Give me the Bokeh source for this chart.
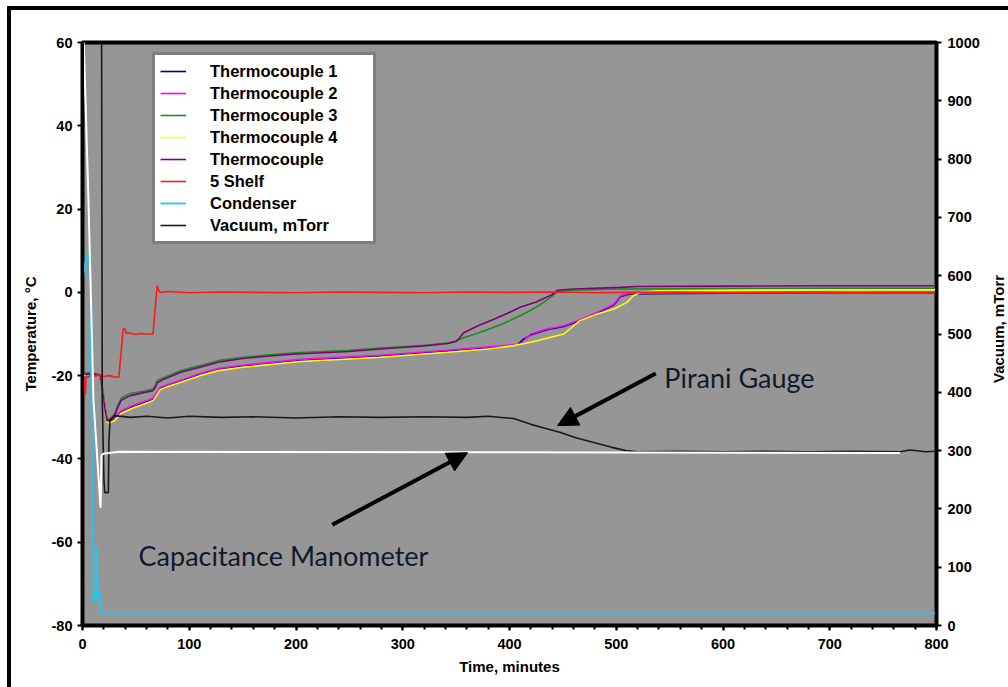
import math
from bokeh.plotting import figure
from bokeh.models import Range1d, LinearAxis, FixedTicker, Arrow, NormalHead, Label, Div
from bokeh.layouts import row
from bokeh.embed import file_html
from bokeh.resources import INLINE

# ---------------- data (time in minutes) ----------------
tc1_t = [0, 5, 10, 15, 17, 19, 21, 23, 26, 30, 36, 45, 61, 66, 68, 73, 80, 92, 110, 127, 150, 204, 250, 279, 342, 380, 404, 408, 413, 420, 435, 451, 466, 482, 498, 504, 513, 530, 600, 700, 800]
tc1_v = [-19.9, -19.7, -19.8, -20.0, -20.8, -24.0, -28.0, -30.8, -30.8, -30.3, -28.7, -27.6, -26.1, -25.6, -24.9, -23.0, -22.3, -21.3, -19.7, -18.5, -17.7, -16.3, -15.7, -15.3, -14.1, -13.3, -12.7, -12.5, -11.3, -10.2, -9.0, -8.2, -6.8, -5.0, -3.0, -1.0, -0.4, -0.3, -0.2, -0.1, -0.1]

tc2_t = [0, 5, 10, 15, 17, 19, 21, 23, 26, 30, 36, 45, 61, 66, 68, 73, 80, 92, 110, 127, 150, 204, 250, 279, 342, 380, 404, 410, 415, 420, 435, 451, 466, 482, 498, 504, 513, 530, 600, 700, 800]
tc2_v = [-19.7, -19.5, -19.6, -19.8, -20.4, -23.5, -27.5, -30.6, -30.6, -30.1, -28.5, -27.4, -25.9, -25.4, -24.7, -22.8, -22.1, -21.1, -19.5, -18.3, -17.5, -16.1, -15.5, -15.1, -13.9, -13.1, -12.6, -12.4, -11.2, -10.0, -8.8, -8.0, -6.6, -4.8, -2.8, -0.8, -0.2, -0.2, -0.1, 0.0, 0.0]

tc3_t = [0, 5, 10, 15, 17, 19, 21, 23, 26, 30, 33, 36, 40, 45, 55, 66, 68, 70, 75, 92, 110, 127, 150, 175, 200, 250, 279, 320, 342, 350, 357, 370, 382, 395, 410, 420, 432, 440, 445, 460, 500, 600, 700, 800]
tc3_v = [-19.5, -19.3, -19.4, -19.6, -20.0, -23.5, -27.5, -30.5, -30.3, -29.2, -27.2, -25.5, -24.9, -24.3, -23.8, -23.2, -22.4, -21.2, -20.6, -18.8, -17.6, -16.4, -15.6, -15.0, -14.5, -13.9, -13.4, -12.7, -12.2, -11.6, -10.9, -9.8, -8.7, -7.4, -5.6, -4.3, -2.4, -0.9, 0.2, 0.5, 0.8, 0.9, 1.0, 1.0]

tc4_t = [0, 5, 10, 15, 17, 19, 21, 23, 26, 30, 36, 45, 61, 66, 68, 73, 80, 92, 110, 127, 150, 204, 250, 279, 342, 380, 404, 420, 435, 451, 466, 482, 498, 510, 516, 523, 540, 600, 700, 800]
tc4_v = [-20.0, -19.8, -19.8, -20.0, -20.6, -24.0, -28.0, -31.2, -31.3, -30.8, -29.1, -28.0, -26.5, -26.0, -25.3, -23.3, -22.6, -21.6, -20.0, -18.8, -18.0, -16.6, -16.0, -15.6, -14.4, -13.6, -12.8, -12.0, -11.0, -10.0, -6.8, -5.2, -4.0, -2.4, -0.8, 0.0, 0.4, 0.5, 0.6, 0.6]

tc5_t = [0, 5, 10, 15, 17, 19, 21, 23, 26, 30, 33, 36, 40, 45, 55, 66, 68, 70, 75, 92, 110, 127, 150, 175, 200, 250, 279, 320, 342, 350, 353, 357, 362, 370, 382, 395, 410, 425, 432, 440, 445, 460, 504, 520, 600, 700, 800]
tc5_v = [-19.8, -19.6, -19.7, -19.9, -20.3, -24.0, -28.0, -30.8, -30.6, -29.6, -27.7, -26.0, -25.4, -24.8, -24.2, -23.6, -22.9, -21.7, -21.0, -19.2, -18.0, -16.8, -15.9, -15.3, -14.8, -14.2, -13.6, -12.9, -12.3, -11.8, -11.0, -9.7, -9.1, -8.1, -6.8, -5.4, -3.6, -2.3, -1.5, -0.5, 0.5, 0.8, 1.2, 1.4, 1.5, 1.6, 1.6]

shelf_t = [0, 0.6, 1.5, 2.5, 3.5, 5, 8, 12, 16, 20, 25, 30, 34, 36, 38, 39.5, 41, 45, 50, 55, 60, 66, 68, 70, 71.5, 73, 80, 100, 130, 160, 200, 240, 280, 320, 360, 400, 440, 480, 520, 560, 600, 640, 680, 720, 760, 800]
shelf_v = [0.5, -22.5, -21.0, -24.5, -20.0, -20.5, -19.8, -20.1, -19.8, -20.2, -20.0, -20.3, -20.4, -15.0, -9.0, -8.6, -9.8, -9.8, -10.1, -9.9, -10.0, -10.0, -4.0, 1.6, 0.4, 0.0, 0.2, -0.1, 0.1, 0.0, -0.1, 0.1, 0.0, -0.1, 0.1, 0.0, 0.1, -0.1, 0.0, 0.1, -0.1, 0.0, 0.1, -0.1, 0.0, 0.0]

cond_t = [0, 2, 4, 5.6, 6.5, 7.5, 8.4, 9.3, 10.3, 11.2, 12.2, 13.1, 14.3, 15.9, 17.5, 100, 300, 500, 800]
cond_v = [2.0, 6.4, 8.5, 9.3, 7.6, -8.0, -26.0, -50.0, -74.3, -72.5, -74.5, -60.8, -73.3, -71.8, -77.1, -77.1, -77.1, -77.1, -77.1]

vac_t = [0, 17.8, 18.5, 20.1, 20.8, 24.2, 24.8, 25.8, 30, 45, 60, 80, 100, 130, 160, 200, 240, 280, 320, 360, 380, 404, 420, 434, 448, 462, 479, 495, 509, 520, 560, 600, 640, 680, 720, 766, 775, 790, 800]
vac_v = [1100, 1100, 386, 249, 228, 228, 317, 352, 360, 357, 359, 356, 359, 357, 358, 356, 358, 357, 358, 357, 359, 355, 345, 338, 331, 322, 314, 306, 300, 298, 299, 298, 299, 298, 299, 298, 301, 298, 299]

cap_t = [0.5, 5.6, 10.3, 16.9, 17.8, 20, 25, 34, 766]
cap_v = [1040, 729, 386, 202, 292, 295, 296, 298, 296]

x_ticks = [0, 100, 200, 300, 400, 500, 600, 700, 800]
x_minor = [v for v in range(0, 801, 20)]
t_ticks = [-80, -60, -40, -20, 0, 20, 40, 60]
vac_ticks = [0, 100, 200, 300, 400, 500, 600, 700, 800, 900, 1000]

# annotation anchors (minutes, degC)
pirani_arrow = (537, -19.5, 445, -32.0)
pirani_text = (545, -20.5)
cap_arrow = (234, -55.8, 360.7, -38.5)
cap_text = (52.5, -63.2)

# ---------------- figure ----------------
FONT = "Liberation Sans"
p = figure(width=972, height=677, x_range=Range1d(0, 800), y_range=Range1d(-80, 60),
           output_backend="svg", toolbar_location=None,
           min_border_left=71, min_border_top=32, min_border_right=47, min_border_bottom=62)
p.extra_y_ranges = {"vac": Range1d(0, 1000)}
p.background_fill_color = "#969696"
p.border_fill_color = "white"
p.outline_line_color = "black"
p.outline_line_width = 4
p.xgrid.visible = False
p.ygrid.visible = False

p.line(tc1_t, tc1_v, color="#000080", line_width=1.6, legend_label="Thermocouple 1")
p.line(tc2_t, tc2_v, color="#ff00ff", line_width=1.6, legend_label="Thermocouple 2")
p.line(tc3_t, tc3_v, color="#1e8c1e", line_width=1.6, legend_label="Thermocouple 3")
p.line(tc4_t, tc4_v, color="#ffff00", line_width=1.6, legend_label="Thermocouple 4")
p.line(tc5_t, tc5_v, color="#800080", line_width=1.6, legend_label="Thermocouple")
p.line(shelf_t, shelf_v, color="#ff1a1a", line_width=1.6, legend_label="5 Shelf")
p.line(cond_t, cond_v, color="#1ec8f5", line_width=1.8, legend_label="Condenser")
p.line(vac_t, vac_v, color="#1a1a1a", line_width=1.6, y_range_name="vac", legend_label="Vacuum, mTorr")
p.line(cap_t, cap_v, color="white", line_width=2, y_range_name="vac")

def style_axis(ax, ticks, minor=None):
    ax.ticker = FixedTicker(ticks=ticks, minor_ticks=minor or [])
    ax.major_label_overrides = {t: str(t) for t in ticks}
    ax.axis_line_color = "black"
    ax.axis_line_width = 3
    ax.major_tick_line_color = "black"
    ax.major_tick_line_width = 2
    ax.major_tick_out = 5
    ax.major_tick_in = 0
    ax.minor_tick_line_color = "black"
    ax.minor_tick_line_width = 2
    ax.minor_tick_out = 4
    ax.minor_tick_in = 0
    ax.major_label_text_font = FONT
    ax.major_label_text_font_style = "bold"
    ax.major_label_text_font_size = "14.5px"
    ax.major_label_text_color = "black"
    ax.axis_label_text_font = FONT
    ax.axis_label_text_font_style = "bold"
    ax.axis_label_text_font_size = "15px"
    ax.axis_label_text_color = "black"

xa = p.xaxis[0]
style_axis(xa, x_ticks, x_minor)
xa.axis_label = "Time, minutes"
xa.major_label_standoff = 8
xa.axis_label_standoff = 6

ya = p.yaxis[0]
style_axis(ya, t_ticks)
ya.axis_label = "Temperature, °C"
ya.major_label_standoff = 5
ya.axis_label_standoff = 10

ra = LinearAxis(y_range_name="vac")
style_axis(ra, vac_ticks)
ra.major_label_standoff = 6
p.add_layout(ra, "right")

# legend
lg = p.legend[0]
lg.location = (70, 381)
lg.margin = 0
lg.padding = 5
lg.spacing = 0
lg.label_height = 22
lg.glyph_height = 22
lg.glyph_width = 26
lg.label_standoff = 24
lg.label_width = 158
lg.border_line_color = "black"
lg.border_line_width = 3
lg.background_fill_color = "white"
lg.background_fill_alpha = 1
lg.label_text_font = FONT
lg.label_text_font_style = "bold"
lg.label_text_font_size = "16.5px"
lg.label_text_color = "black"

# annotations
for (x0, y0, x1, y1) in [pirani_arrow, cap_arrow]:
    p.add_layout(Arrow(x_start=x0, y_start=y0, x_end=x1, y_end=y1,
                       line_width=4, line_color="black",
                       end=NormalHead(size=20, fill_color="black", line_color="black")))

p.add_layout(Label(x=pirani_text[0], y=pirani_text[1], text="Pirani Gauge",
                   text_font="Lato", text_font_size="27px", text_color="#111a2b",
                   text_baseline="middle"))
p.add_layout(Label(x=cap_text[0], y=cap_text[1], text="Capacitance Manometer",
                   text_font="Lato", text_font_size="27px", text_color="#111a2b",
                   text_baseline="middle"))

# right-hand axis title, reading bottom to top
vac_title = Div(text="Vacuum, mTorr", width=22, height=628,
                styles={"writing-mode": "vertical-rl", "transform": "rotate(180deg)",
                        "text-align": "center", "line-height": "22px",
                        "font-family": FONT, "font-weight": "bold",
                        "font-size": "15px", "color": "black", "white-space": "nowrap"})

root = row(p, vac_title, spacing=0,
           styles={"border-left": "4px solid black", "border-top": "4px solid black",
                   "margin-left": "7px", "margin-top": "6px"})

open("out.html", "w").write(file_html(root, INLINE))
